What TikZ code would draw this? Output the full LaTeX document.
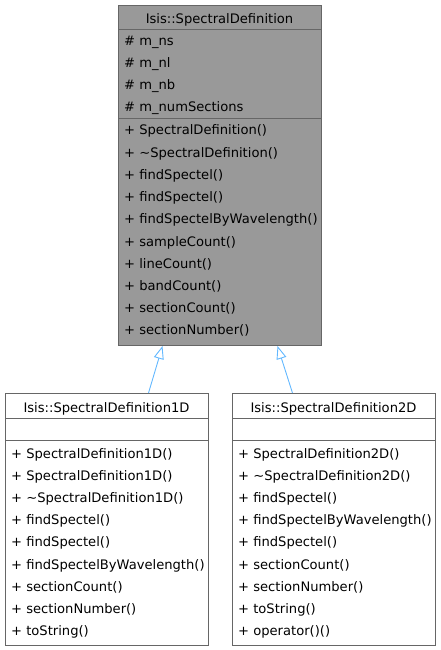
\documentclass[tikz,border=0pt]{standalone}
\usepackage{fontspec}
\setmainfont{DejaVu Sans}
\usetikzlibrary{positioning,arrows.meta}
\definecolor{dxgray}{RGB}{153,153,153}
\definecolor{dxedge}{RGB}{102,102,102}
\definecolor{dxblue}{RGB}{99,184,255}

\begin{document}
\begin{tikzpicture}[x=1pt, y=-1pt,
  font=\fontsize{13.1}{15}\selectfont,
  classbox/.style={draw=dxedge, line width=1pt, rectangle, inner sep=0pt,
                   minimum width=203, anchor=north west},
  classtitle/.style={anchor=base, inner sep=0pt},
  member/.style={anchor=base west, inner sep=0pt},
  inherit/.style={draw=dxblue, line width=0.9pt,
                  -{Triangle[open, length=13, width=10]}}]
\useasboundingbox (0,0) rectangle (440,650);

% ================= base class =================
% Title band 25 high, then 4 protected members, then 10 public ones.
\node[classbox, fill=dxgray, minimum height=340] (base) at (118,5) {};
\draw[dxedge, line width=1pt] (118,30) -- (321,30);
\draw[dxedge, line width=1pt] (118,119) -- (321,119);
\node[classtitle] (base-title) at (219.5,24) {Isis::SpectralDefinition};
\foreach \i/\lbl in {0/m\_ns, 1/m\_nl, 2/m\_nb, 3/m\_numSections}
  \node[member] (base-a\i) at (124,{46+22*\i}) {\# \lbl};
\foreach \i/\lbl in {0/SpectralDefinition(), 1/\textasciitilde SpectralDefinition(),
                     2/findSpectel(), 3/findSpectel(), 4/findSpectelByWavelength(),
                     5/sampleCount(), 6/lineCount(), 7/bandCount(),
                     8/sectionCount(), 9/sectionNumber()}
  \node[member] (base-m\i) at (124,{135+22.2*\i}) {+ \lbl};

% ================= derived classes =================
% Same width as the base; title, empty attribute band, 9 methods each.
\node[classbox, fill=white, minimum height=252] (oned) at (5,393) {};
\draw[dxedge, line width=1pt] (5,418) -- (208,418);
\draw[dxedge, line width=1pt] (5,440) -- (208,440);
\node[classtitle] (oned-title) at (106.5,412.5) {Isis::SpectralDefinition1D};
\foreach \i/\lbl in {0/SpectralDefinition1D(), 1/SpectralDefinition1D(),
                     2/\textasciitilde SpectralDefinition1D(), 3/findSpectel(),
                     4/findSpectel(), 5/findSpectelByWavelength(),
                     6/sectionCount(), 7/sectionNumber(), 8/toString()}
  \node[member] (oned-m\i) at (11,{458+22.2*\i}) {+ \lbl};

\node[classbox, fill=white, minimum height=252] (twod) at (232,393) {};
\draw[dxedge, line width=1pt] (232,418) -- (435,418);
\draw[dxedge, line width=1pt] (232,440) -- (435,440);
\node[classtitle] (twod-title) at (333.5,412.5) {Isis::SpectralDefinition2D};
\foreach \i/\lbl in {0/SpectralDefinition2D(), 1/\textasciitilde SpectralDefinition2D(),
                     2/findSpectel(), 3/findSpectelByWavelength(), 4/findSpectel(),
                     5/sectionCount(), 6/sectionNumber(), 7/toString(), 8/operator()()}
  \node[member] (twod-m\i) at (238,{458+22.2*\i}) {+ \lbl};

% ================= inheritance =================
\draw[inherit] ([xshift=41.5]oned.north) -- ([xshift=-57.5]base.south);
\draw[inherit] ([xshift=-41.5]twod.north) -- ([xshift=57.5]base.south);
\end{tikzpicture}
\end{document}
